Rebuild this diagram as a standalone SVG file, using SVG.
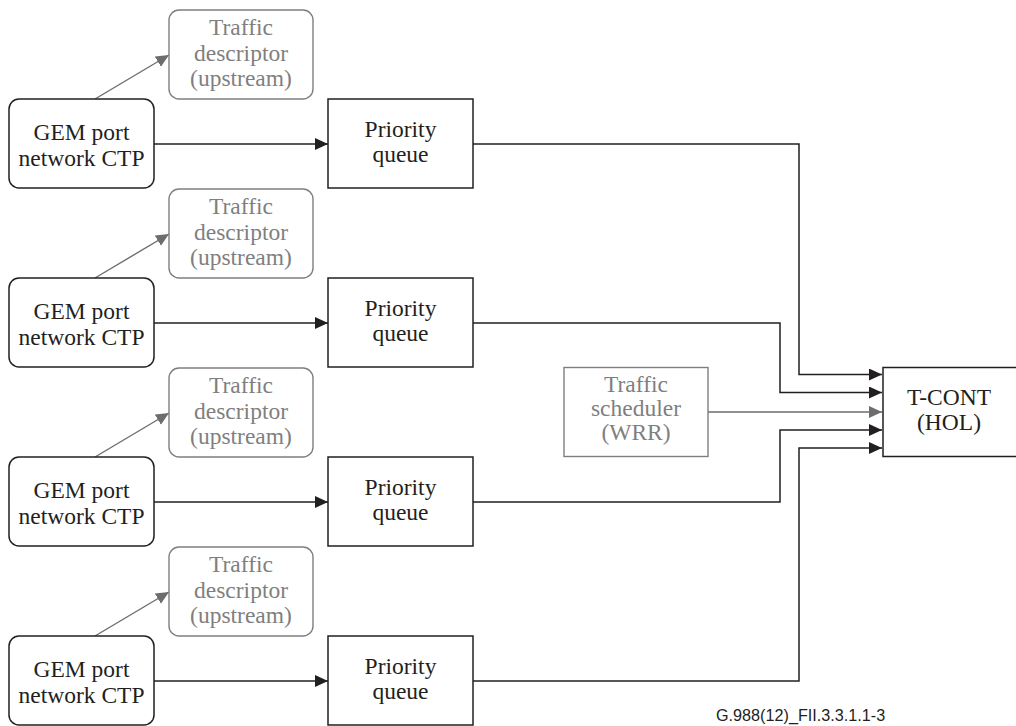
<svg xmlns="http://www.w3.org/2000/svg" width="1016" height="726" viewBox="0 0 1016 726">
<style>
.box{fill:#fff;stroke:#231f20;stroke-width:1.5}
.gbox{fill:#fff;stroke:#7f7f7f;stroke-width:1.4}
.t{font-family:'Liberation Serif','DejaVu Serif',serif;font-size:23.5px;fill:#231f20;text-anchor:middle}
.gt{font-family:'Liberation Serif','DejaVu Serif',serif;font-size:23.5px;fill:#7f7f7f;text-anchor:middle}
.c{fill:none;stroke:#231f20;stroke-width:1.5}
.gc{fill:none;stroke:#6d6d6d;stroke-width:1.4}
.lab{font-family:'Liberation Sans',Arial,sans-serif;font-size:16.2px;fill:#231f20}
</style>
<defs>
<marker id="ah" markerUnits="userSpaceOnUse" markerWidth="14" markerHeight="13" refX="13" refY="6" orient="auto"><path d="M0,0 L13,6 L0,12 z" fill="#231f20"/></marker>
<marker id="gah" markerUnits="userSpaceOnUse" markerWidth="14" markerHeight="13" refX="13" refY="6" orient="auto"><path d="M0,0 L13,6 L0,12 z" fill="#6d6d6d"/></marker>
</defs>
<rect width="1016" height="726" fill="#fff"/>
<g id="connectors">
<path class="gc" d="M95,99 L169,55" marker-end="url(#gah)"/>
<path class="gc" d="M95,278 L169,234" marker-end="url(#gah)"/>
<path class="gc" d="M95,457 L169,413" marker-end="url(#gah)"/>
<path class="gc" d="M95,636 L169,592" marker-end="url(#gah)"/>
<path class="c" d="M154,144 H328" marker-end="url(#ah)"/>
<path class="c" d="M154,323 H328" marker-end="url(#ah)"/>
<path class="c" d="M154,502 H328" marker-end="url(#ah)"/>
<path class="c" d="M154,681 H328" marker-end="url(#ah)"/>
<path class="c" d="M473,144 H799 V374.5 H882" marker-end="url(#ah)"/>
<path class="c" d="M473,323 H780 V392.5 H882" marker-end="url(#ah)"/>
<path class="gc" d="M708,412 H882" marker-end="url(#gah)"/>
<path class="c" d="M473,502 H780 V430 H882" marker-end="url(#ah)"/>
<path class="c" d="M473,681 H799 V448 H882" marker-end="url(#ah)"/>
</g>
<g id="td1"><rect class="gbox" x="169" y="10" width="144" height="89" rx="10"/><text class="gt" x="241" y="35">Traffic</text><text class="gt" x="241" y="61">descriptor</text><text class="gt" x="241" y="86">(upstream)</text></g>
<g id="td2"><rect class="gbox" x="169" y="189" width="144" height="89" rx="10"/><text class="gt" x="241" y="214">Traffic</text><text class="gt" x="241" y="240">descriptor</text><text class="gt" x="241" y="265">(upstream)</text></g>
<g id="td3"><rect class="gbox" x="169" y="368" width="144" height="89" rx="10"/><text class="gt" x="241" y="393">Traffic</text><text class="gt" x="241" y="419">descriptor</text><text class="gt" x="241" y="444">(upstream)</text></g>
<g id="td4"><rect class="gbox" x="169" y="547" width="144" height="89" rx="10"/><text class="gt" x="241" y="572">Traffic</text><text class="gt" x="241" y="598">descriptor</text><text class="gt" x="241" y="623">(upstream)</text></g>
<g id="gem1"><rect class="box" x="9" y="99" width="145" height="89" rx="10"/><text class="t" x="81.5" y="140">GEM port</text><text class="t" x="81.5" y="166">network CTP</text></g>
<g id="gem2"><rect class="box" x="9" y="278" width="145" height="89" rx="10"/><text class="t" x="81.5" y="319">GEM port</text><text class="t" x="81.5" y="345">network CTP</text></g>
<g id="gem3"><rect class="box" x="9" y="457" width="145" height="89" rx="10"/><text class="t" x="81.5" y="498">GEM port</text><text class="t" x="81.5" y="524">network CTP</text></g>
<g id="gem4"><rect class="box" x="9" y="636" width="145" height="89" rx="10"/><text class="t" x="81.5" y="677">GEM port</text><text class="t" x="81.5" y="703">network CTP</text></g>
<g id="pq1"><rect class="box" x="328" y="99" width="145" height="89"/><text class="t" x="400.5" y="137">Priority</text><text class="t" x="400.5" y="162">queue</text></g>
<g id="pq2"><rect class="box" x="328" y="278" width="145" height="89"/><text class="t" x="400.5" y="316">Priority</text><text class="t" x="400.5" y="341">queue</text></g>
<g id="pq3"><rect class="box" x="328" y="457" width="145" height="89"/><text class="t" x="400.5" y="495">Priority</text><text class="t" x="400.5" y="520">queue</text></g>
<g id="pq4"><rect class="box" x="328" y="636" width="145" height="89"/><text class="t" x="400.5" y="674">Priority</text><text class="t" x="400.5" y="699">queue</text></g>
<g id="scheduler"><rect class="gbox" x="564" y="367.5" width="144" height="89"/><text class="gt" x="636" y="392">Traffic</text><text class="gt" x="636" y="416">scheduler</text><text class="gt" x="636" y="440">(WRR)</text></g>
<g id="tcont"><rect class="box" x="883" y="367.5" width="140" height="89"/><text class="t" x="949" y="405">T-CONT</text><text class="t" x="949" y="430">(HOL)</text></g>
<text class="lab" x="716" y="721">G.988(12)_FII.3.3.1.1-3</text>
</svg>
